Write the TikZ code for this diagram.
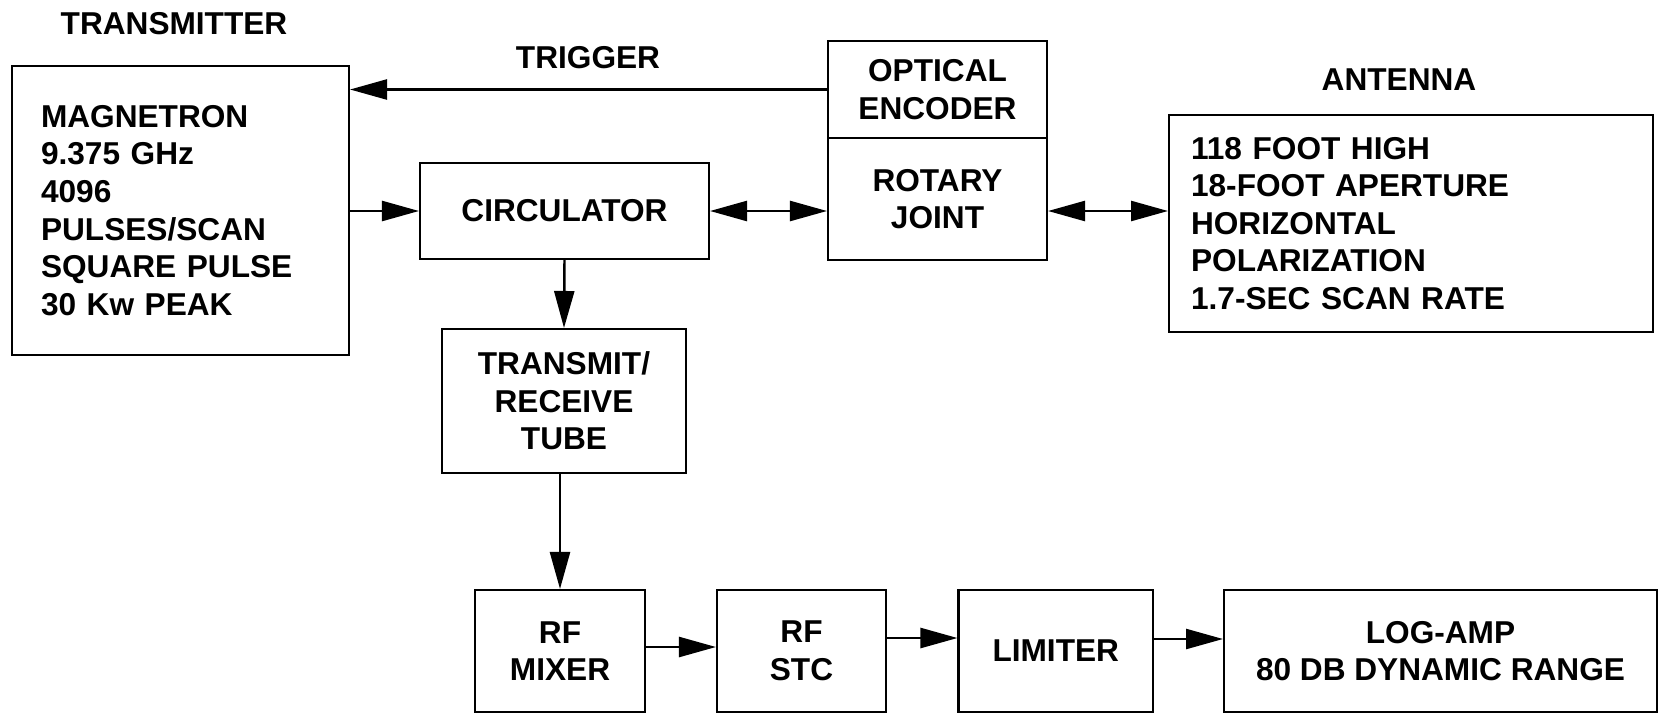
\documentclass[tikz,border=0pt]{standalone}
\usepackage{fontspec}
\setmainfont{Liberation Sans}
\usetikzlibrary{arrows.meta,positioning}

\tikzset{
  blk/.style={draw, line width=1.2pt, inner sep=0pt, align=center,
    font=\fontsize{18}{21.4}\selectfont\bfseries},
  lbl/.style={font=\fontsize{18}{21.4}\selectfont\bfseries},
  sig/.style={line width=1.4pt, -{Triangle[length=0.74cm,width=0.4cm]}},
  bisig/.style={line width=1.4pt,
    {Triangle[length=0.74cm,width=0.4cm]}-{Triangle[length=0.74cm,width=0.4cm]}},
}

\begin{document}
\begin{tikzpicture}[x=0.02cm, y=-0.02cm]
  \useasboundingbox (0,0) rectangle (1660,714);

  % Transmitter
  \node[lbl] (txlbl) at (174,24) {TRANSMITTER};
  \node[blk, minimum width=6.74cm, minimum height=5.78cm, text width=5.58cm,
        inner xsep=0.58cm, align=left] (tx) at (180.5,210.5)
        {MAGNETRON\\9.375 GHz\\4096\\PULSES/SCAN\\SQUARE PULSE\\30 Kw PEAK};

  % Encoder and rotary joint
  \node[blk, minimum width=4.38cm, minimum height=1.94cm] (enc) at (937.5,89.5) {OPTICAL\\ENCODER};
  \node[blk, minimum width=4.38cm, minimum height=2.44cm] (rj) at (937.5,199) {ROTARY\\JOINT};
  \node[lbl] (trglbl) at (588,58) {TRIGGER};

  % Circulator and T/R tube
  \node[blk, minimum width=5.78cm, minimum height=1.92cm] (circ) at (564.5,211) {CIRCULATOR};
  \node[blk, minimum width=4.88cm, minimum height=2.88cm] (tr) at (564,401) {TRANSMIT/\\RECEIVE\\TUBE};

  % Antenna
  \node[lbl] (antlbl) at (1399,80) {ANTENNA};
  \node[blk, minimum width=9.68cm, minimum height=4.34cm, text width=8.8cm,
        inner xsep=0.44cm, align=left] (ant) at (1411,223.5)
        {118 FOOT HIGH\\18-FOOT APERTURE\\HORIZONTAL\\POLARIZATION\\1.7-SEC SCAN RATE};

  % Receiver chain
  \node[blk, minimum width=3.4cm, minimum height=2.44cm] (mix) at (560,651) {RF\\MIXER};
  \node[blk, minimum width=3.38cm, minimum height=2.44cm] (stc) at (801.5,651) {RF\\STC};
  \node[blk, minimum width=3.89cm, minimum height=2.44cm] (lim) at (1055.75,651) {LIMITER};
  \node[blk, minimum width=8.66cm, minimum height=2.44cm] (log) at (1440.5,651) {LOG-AMP\\80 DB DYNAMIC RANGE};

  % Connections
  \draw[sig] (enc.west) -- (enc.west -| tx.east);
  \draw[sig] (tx.east |- circ.west) -- (circ.west);
  \draw[bisig] (circ.east) -- (circ.east -| rj.west);
  \draw[bisig] (circ.east -| rj.east) -- (circ.east -| ant.west);
  \draw[sig] (circ.south) -- (tr.north);
  \draw[sig] (mix.north |- tr.south) -- (mix.north);
  \draw[sig] ([yshift=0.08cm]mix.east) -- ([yshift=0.08cm]stc.west);
  \draw[sig] ([yshift=0.26cm]stc.east) -- ([yshift=0.26cm]lim.west);
  \draw[sig] ([yshift=0.24cm]lim.east) -- ([yshift=0.24cm]log.west);
\end{tikzpicture}
\end{document}
